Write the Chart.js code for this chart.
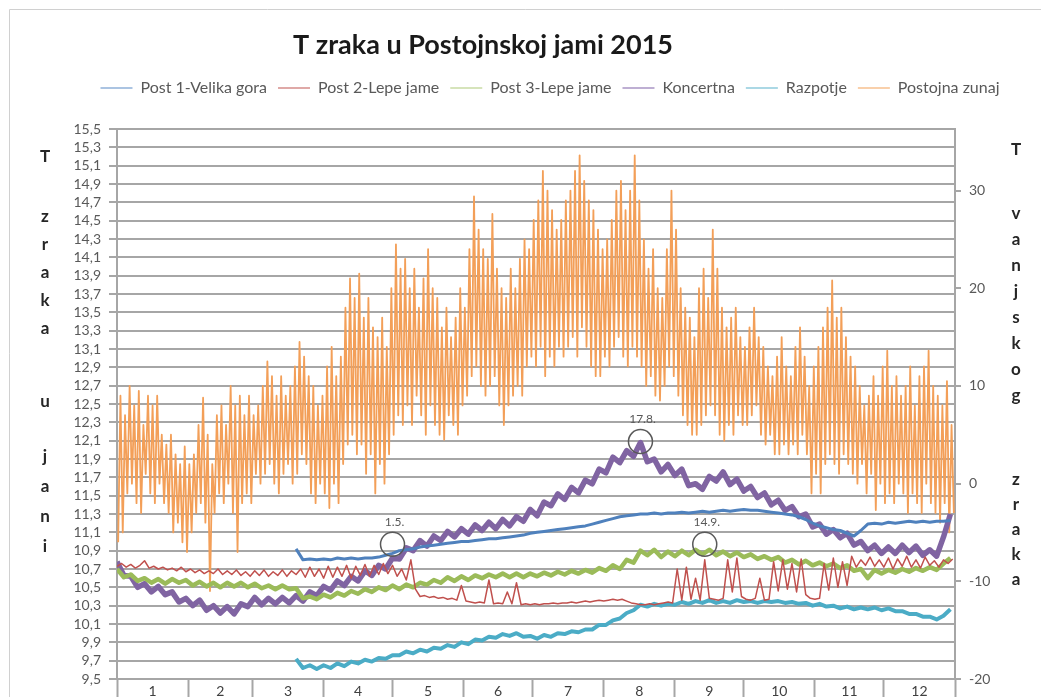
<!DOCTYPE html>
<html>
<head>
<meta charset="utf-8">
<title>T zraka u Postojnskoj jami 2015</title>
<script src="https://cdn.jsdelivr.net/npm/chart.js@4.4.1/dist/chart.umd.min.js"></script>
<style>
	html, body { margin: 0; padding: 0; background: #fff; overflow: hidden; }
	canvas { display: block; }
</style>
</head>
<body>
<canvas id="chart" width="1041" height="697"></canvas>
<script>
const chartTitle = `T zraka u Postojnskoj jami 2015`;
const seriesNames = [`Post 1-Velika gora`, `Post 2-Lepe jame`, `Post 3-Lepe jame`, `Koncertna`, `Razpotje`, `Postojna zunaj`];
const leftAxisTitle = [`T`, `zraka`, `u`, `jani`];
const rightAxisTitle = [`T`, `vanjskog`, `zraka`];

// x axis: day of year, month boundaries and labels
const monthLabels = [`1`, `2`, `3`, `4`, `5`, `6`, `7`, `8`, `9`, `10`, `11`, `12`];
const monthStarts = [0, 31, 59, 90, 120, 151, 181, 212, 243, 273, 304, 334, 365];
const rightTicks = [-20, -10, 0, 10, 20, 30];

// circled points
const markLabels = [`1.5.`, `17.8.`, `14.9.`];
const markDays = [120, 228, 256];
const markValues = [10.97, 12.09, 10.97];

// cave series, read every 3rd day (left axis)
const post1 = [
	null, null, null, null, null, null, null, null, null, null,
	null, null, null, null, null, null, null, null, null, null,
	null, null, null, null, null, null, 10.92, 10.80, 10.81, 10.80,
	10.81, 10.80, 10.82, 10.81, 10.82, 10.81, 10.82, 10.82, 10.83, 10.85,
	10.87, 10.90, 10.91, 10.92, 10.94, 10.95, 10.96, 10.97, 10.98, 10.99,
	11.00, 11.00, 11.01, 11.02, 11.03, 11.03, 11.04, 11.05, 11.06, 11.07,
	11.09, 11.10, 11.11, 11.12, 11.13, 11.14, 11.15, 11.16, 11.17, 11.19,
	11.21, 11.23, 11.25, 11.27, 11.28, 11.29, 11.30, 11.30, 11.31, 11.30,
	11.31, 11.31, 11.32, 11.31, 11.32, 11.33, 11.32, 11.33, 11.34, 11.33,
	11.34, 11.35, 11.34, 11.34, 11.33, 11.32, 11.31, 11.30, 11.29, 11.27,
	11.24, 11.20, 11.17, 11.15, 11.13, 11.12, 11.09, 11.06, 11.12, 11.19,
	11.20, 11.19, 11.21, 11.20, 11.21, 11.22, 11.21, 11.22, 11.21, 11.22,
	11.22, 11.23
];
const post3 = [
	10.70, 10.61, 10.64, 10.57, 10.60, 10.55, 10.59, 10.54, 10.59, 10.55,
	10.58, 10.52, 10.56, 10.51, 10.55, 10.50, 10.55, 10.51, 10.55, 10.50,
	10.54, 10.49, 10.52, 10.48, 10.52, 10.48, 10.49, 10.38, 10.40, 10.37,
	10.42, 10.39, 10.44, 10.41, 10.46, 10.43, 10.48, 10.45, 10.50, 10.47,
	10.52, 10.48, 10.53, 10.50, 10.55, 10.53, 10.58, 10.55, 10.61, 10.57,
	10.62, 10.58, 10.63, 10.60, 10.64, 10.61, 10.65, 10.61, 10.65, 10.61,
	10.65, 10.62, 10.66, 10.63, 10.67, 10.64, 10.68, 10.65, 10.69, 10.66,
	10.71, 10.68, 10.74, 10.70, 10.80, 10.77, 10.90, 10.85, 10.91, 10.83,
	10.89, 10.84, 10.90, 10.85, 10.91, 10.86, 10.91, 10.85, 10.89, 10.84,
	10.88, 10.83, 10.86, 10.81, 10.84, 10.80, 10.83, 10.77, 10.80, 10.75,
	10.79, 10.74, 10.77, 10.73, 10.76, 10.71, 10.74, 10.68, 10.70, 10.60,
	10.69, 10.65, 10.69, 10.66, 10.70, 10.67, 10.71, 10.68, 10.72, 10.69,
	10.76, 10.82
];
const koncertna = [
	10.78, 10.63, 10.62, 10.50, 10.54, 10.45, 10.51, 10.42, 10.45, 10.34,
	10.38, 10.30, 10.36, 10.25, 10.30, 10.22, 10.29, 10.21, 10.32, 10.29,
	10.39, 10.31, 10.38, 10.32, 10.39, 10.33, 10.41, 10.35, 10.45, 10.41,
	10.51, 10.47, 10.57, 10.52, 10.62, 10.57, 10.68, 10.63, 10.74, 10.70,
	10.82, 10.81, 10.93, 10.90, 11.01, 10.95, 11.06, 11.01, 11.11, 11.05,
	11.14, 11.08, 11.18, 11.12, 11.21, 11.14, 11.24, 11.17, 11.27, 11.22,
	11.35, 11.28, 11.43, 11.39, 11.52, 11.46, 11.59, 11.53, 11.67, 11.63,
	11.79, 11.75, 11.92, 11.86, 11.99, 11.93, 12.08, 11.87, 11.90, 11.76,
	11.84, 11.72, 11.79, 11.61, 11.63, 11.57, 11.71, 11.66, 11.76, 11.62,
	11.68, 11.55, 11.60, 11.48, 11.53, 11.40, 11.45, 11.34, 11.38, 11.27,
	11.30, 11.16, 11.19, 11.08, 11.13, 11.04, 11.09, 10.96, 11.00, 10.90,
	10.96, 10.87, 10.94, 10.87, 10.96, 10.88, 10.95, 10.85, 10.91, 10.84,
	11.05, 11.30
];
const razpotje = [
	null, null, null, null, null, null, null, null, null, null,
	null, null, null, null, null, null, null, null, null, null,
	null, null, null, null, null, null, 9.72, 9.62, 9.65, 9.61,
	9.65, 9.62, 9.67, 9.64, 9.69, 9.67, 9.71, 9.69, 9.73, 9.72,
	9.76, 9.76, 9.80, 9.78, 9.82, 9.80, 9.84, 9.83, 9.87, 9.85,
	9.90, 9.88, 9.93, 9.92, 9.96, 9.95, 9.99, 9.97, 10.00, 9.96,
	9.97, 9.94, 9.98, 9.96, 10.00, 9.99, 10.02, 10.01, 10.04, 10.04,
	10.09, 10.09, 10.14, 10.16, 10.22, 10.25, 10.31, 10.29, 10.32, 10.30,
	10.32, 10.31, 10.34, 10.32, 10.35, 10.33, 10.36, 10.33, 10.35, 10.33,
	10.36, 10.34, 10.35, 10.33, 10.35, 10.34, 10.35, 10.33, 10.34, 10.32,
	10.33, 10.30, 10.32, 10.29, 10.30, 10.27, 10.29, 10.26, 10.28, 10.26,
	10.28, 10.25, 10.27, 10.24, 10.24, 10.21, 10.21, 10.18, 10.18, 10.15,
	10.19, 10.26
];

// Post 2 read every 2nd day (it has the spikes)
const post2 = [
	10.73, 10.76, 10.72, 10.75, 10.71, 10.74, 10.79, 10.71, 10.73, 10.70,
	10.72, 10.69, 10.71, 10.68, 10.72, 10.67, 10.70, 10.66, 10.69, 10.65,
	10.68, 10.65, 10.70, 10.64, 10.68, 10.64, 10.69, 10.63, 10.67, 10.62,
	10.68, 10.63, 10.69, 10.62, 10.67, 10.63, 10.69, 10.62, 10.68, 10.64,
	10.70, 10.61, 10.72, 10.62, 10.70, 10.60, 10.73, 10.61, 10.72, 10.62,
	10.74, 10.60, 10.73, 10.63, 10.75, 10.62, 10.74, 10.64, 10.76, 10.65,
	10.74, 10.62, 10.70, 10.58, 10.80, 10.48, 10.40, 10.41, 10.39, 10.40,
	10.38, 10.39, 10.37, 10.38, 10.36, 10.52, 10.35, 10.34, 10.33, 10.34,
	10.33, 10.58, 10.32, 10.33, 10.32, 10.45, 10.32, 10.55, 10.31, 10.32,
	10.31, 10.32, 10.31, 10.32, 10.32, 10.33, 10.32, 10.33, 10.33, 10.34,
	10.33, 10.34, 10.35, 10.34, 10.35, 10.36, 10.35, 10.36, 10.37, 10.36,
	10.37, 10.35, 10.33, 10.32, 10.31, 10.31, 10.32, 10.31, 10.32, 10.33,
	10.34, 10.33, 10.70, 10.36, 10.72, 10.37, 10.60, 10.36, 10.80, 10.38,
	10.37, 10.36, 10.38, 10.80, 10.45, 10.82, 10.40, 10.37, 10.36, 10.38,
	10.60, 10.36, 10.37, 10.78, 10.46, 10.80, 10.48, 10.76, 10.45, 10.81,
	10.42, 10.38, 10.37, 10.38, 10.76, 10.47, 10.82, 10.50, 10.78, 10.52,
	10.84, 10.72, 10.80, 10.74, 10.83, 10.73, 10.80, 10.72, 10.82, 10.70,
	10.81, 10.73, 10.84, 10.72, 10.80, 10.71, 10.83, 10.74, 10.79, 10.72,
	10.80, 10.76, 10.81
];

// outside temperature, one reading per day, alternating day/night (right axis)
const zunaj = [
	-6, 9, -5, 7, -1, 10, 0,
	8, -2, 9.5, -3, 6, 1, 9,
	-1, 8, -2, 9, 0, 5, -2,
	4, -3, 5, -5, 3, -4, 2,
	-6, 3.8, -7, 2, -5, 3, -3,
	6, -2, 8.8, -4, 5, -11, 2,
	-3, 7, -1, 8, -2, 6, 0,
	10, -3, 8, -7, 9, -2, 7,
	-1, 9, -2, 7, 1, 8, 0,
	10, 1, 12.5, 2, 11, 0, 9,
	-1, 11, 1, 9, 2, 10, 0,
	12, 1, 14.5, 3, 13, 2, 11,
	-1, 10, -2, 8, 0, 9, -1,
	12, -2.5, 14, 0, 11, -2, 13,
	2, 18, 4, 21, 5, 19, 3,
	21.5, 4, 17, 1, 19, 3, 16,
	-1, 15, 2, 17, 0, 14, 3,
	20, 5, 24.5, 7, 22, 6, 23,
	8, 20, 6, 22, 9, 18, 7,
	21, 5, 24, 8, 20, 6, 19,
	5, 16, 4.5, 18, 7, 15, 6,
	17, 5, 20, 8, 18, 9, 24,
	11, 29.4, 12, 26, 10, 24, 9,
	23, 10, 27.6, 11, 22, 8, 20,
	6, 19, 8, 22, 9, 20, 10,
	23, 9, 25, 12, 24, 13, 27,
	12, 29, 14, 32, 11, 30, 13,
	28, 12, 26, 14, 27, 13, 29,
	14, 30, 15, 32, 13, 33.6, 16,
	31, 14, 29, 12, 28, 11, 26,
	11, 24, 13, 25, 12, 27, 14,
	30, 15, 31, 13, 28, 12, 30,
	14, 33.6, 13, 29, 12, 25, 10,
	22, 11, 24, 9, 20, 8.5, 19,
	10, 24, 12, 30, 11, 26, 9,
	20, 7, 18, 6, 17, 5, 15,
	5, 20, 6, 22, 7, 19, 8,
	26, 7, 22, 5, 18, 4.4, 16,
	6, 17, 5, 18, 7, 15, 6,
	14, 6, 16, 7, 18, 8, 15,
	5, 14, 4, 12, 5, 11, 3,
	13, 3, 15, 4, 12, 3, 11,
	4, 14, 3, 16, 5, 13, 3,
	10, -1, 12, 1, 14, -1, 16,
	2, 18, 3, 20.8, 2, 17, 1,
	18, 3, 15, 2, 13, 1, 12,
	0, 10, 2, 8, -1, 9, 1,
	11, -2.7, 9, 0, 12, -2, 13.6,
	-1, 10, -2, 11, 0, 9, -1,
	10, -3, 12, -1, 8, -2, 11,
	-3, 12, 0, 13.6, -2, 10, -3,
	9, -4, 8, -2, 10.5, -5, 6,
	-3
];

const colors = [`#4f81bd`, `#c0504d`, `#9bbb59`, `#8064a2`, `#4bacc6`, `#f39f58`];
const legendColors = [`#8fb0d8`, `#d58c8a`, `#c9dba5`, `#a994c4`, `#8fcbdc`, `#f7c08f`];
const gridGray = `#a6a6a6`;
const textGray = `#595959`;

const monthMids = monthLabels.map((_, i) => (monthStarts[i] + monthStarts[i + 1]) / 2);
const points = (values, step, offset) => values.map((v, i) => ({x: i * step + offset, y: v}));

const lineSet = (i, values, step, offset, width, axis) => ({
	label: seriesNames[i],
	data: points(values, step, offset),
	borderColor: colors[i],
	backgroundColor: colors[i],
	borderWidth: width,
	borderJoinStyle: `round`,
	pointRadius: 0,
	tension: 0,
	yAxisID: axis
});

// extra text: title, stacked axis titles, circled dates
const decorations = {
	id: `decorations`,
	beforeDraw(chart) {
		const {ctx} = chart;
		ctx.save();
		ctx.fillStyle = `#fff`;
		ctx.fillRect(0, 0, chart.width, chart.height);
		ctx.strokeStyle = `#d0d0d0`;
		ctx.lineWidth = 1;
		ctx.beginPath();
		ctx.moveTo(9.5, chart.height);
		ctx.lineTo(9.5, 9.5);
		ctx.lineTo(chart.width, 9.5);
		ctx.stroke();
		ctx.restore();
	},
	afterDatasetsDraw(chart) {
		const {ctx} = chart;
		const x = chart.scales.x;
		const y = chart.scales.y;
		ctx.save();
		ctx.strokeStyle = textGray;
		ctx.fillStyle = textGray;
		ctx.lineWidth = 1.5;
		ctx.font = `12px Lato`;
		ctx.textAlign = `center`;
		ctx.textBaseline = `middle`;
		markDays.forEach((day, i) => {
			const px = x.getPixelForValue(day);
			const py = y.getPixelForValue(markValues[i]);
			ctx.beginPath();
			ctx.arc(px, py, 12, 0, Math.PI * 2);
			ctx.stroke();
			ctx.fillText(markLabels[i], px + 2, py - 22);
		});
		ctx.restore();
	},
	afterDraw(chart) {
		const {ctx} = chart;
		ctx.save();
		ctx.textAlign = `center`;
		ctx.textBaseline = `middle`;
		ctx.fillStyle = `#1a1a1a`;
		ctx.font = `bold 27px Lato`;
		ctx.fillText(chartTitle, 483, 45);

		ctx.fillStyle = `#262626`;
		ctx.font = `bold 17px Lato`;
		const stack = (word, cx, top, step) => {
			[...word].forEach((ch, k) => ctx.fillText(ch, cx, top + k * step));
		};
		const leftTop = [157, 217, 402, 457];
		const leftStep = [0, 28, 0, 30];
		leftAxisTitle.forEach((w, i) => stack(w, 45, leftTop[i], leftStep[i]));
		const rightTop = [150, 214, 480];
		const rightStep = [0, 26, 25];
		rightAxisTitle.forEach((w, i) => stack(w, 1016, rightTop[i], rightStep[i]));
		ctx.restore();
	}
};

new Chart(document.getElementById(`chart`), {
	type: `line`,
	data: {
		datasets: [
			lineSet(0, post1, 3, 0, 3, `y`),
			lineSet(1, post2, 2, 0, 1.5, `y`),
			lineSet(2, post3, 3, 0, 4.5, `y`),
			lineSet(3, koncertna, 3, 0, 5.5, `y`),
			lineSet(4, razpotje, 3, 0, 4, `y`),
			lineSet(5, zunaj, 1, 0.5, 1.8, `y2`)
		]
	},
	options: {
		responsive: false,
		animation: false,
		devicePixelRatio: 1,
		layout: {padding: {left: 59, right: 0, top: 69, bottom: 0}},
		plugins: {
			title: {display: false},
			tooltip: {enabled: false},
			legend: {
				position: `top`,
				labels: {
					font: {family: `Lato`, size: 16},
					color: textGray,
					usePointStyle: true,
					pointStyleWidth: 32,
					padding: 11,
					generateLabels: chart => Chart.defaults.plugins.legend.labels.generateLabels(chart)
						.map((item, i) => ({...item, pointStyle: `line`, lineWidth: 1.5, strokeStyle: legendColors[i]}))
				}
			}
		},
		scales: {
			x: {
				type: `linear`,
				position: `bottom`,
				min: 0,
				max: 365,
				afterBuildTicks: scale => {
					scale.ticks = [...monthStarts, ...monthMids].sort((a, b) => a - b).map(v => ({value: v}));
				},
				afterFit: scale => { scale.height = 18; },
				grid: {
					drawOnChartArea: false,
					tickLength: 20,
					tickWidth: 2,
					tickColor: c => (c.tick && monthStarts.includes(c.tick.value)) ? gridGray : `rgba(0,0,0,0)`
				},
				border: {color: gridGray, width: 2},
				ticks: {
					autoSkip: false,
					maxRotation: 0,
					padding: -16,
					font: {family: `Lato`, size: 14},
					color: `#404040`,
					callback: v => {
						const k = monthMids.indexOf(v);
						return k >= 0 ? monthLabels[k] : ``;
					}
				}
			},
			gap: {
				type: `linear`,
				position: `top`,
				display: true,
				grid: {display: false},
				border: {display: false},
				ticks: {display: false},
				afterFit: scale => { scale.height = 23; }
			},
			y: {
				position: `left`,
				min: 9.5,
				max: 15.5,
				afterFit: scale => { scale.width = 58; },
				grid: {color: gridGray, lineWidth: 2, tickLength: 8, tickColor: gridGray},
				border: {color: gridGray, width: 2},
				ticks: {
					stepSize: 0.2,
					autoSkip: false,
					padding: 8,
					font: {family: `Lato`, size: 14},
					color: textGray,
					callback: v => v.toFixed(1).replace(`.`, `,`)
				}
			},
			y2: {
				position: `right`,
				min: -20,
				max: 36.3,
				afterBuildTicks: scale => {
					scale.ticks = rightTicks.map(v => ({value: v}));
				},
				afterFit: scale => { scale.width = 86; },
				grid: {drawOnChartArea: false, tickLength: 6, tickColor: gridGray, lineWidth: 2},
				border: {color: gridGray, width: 2},
				ticks: {
					autoSkip: false,
					padding: 8,
					font: {family: `Lato`, size: 14},
					color: textGray
				}
			}
		}
	},
	plugins: [decorations]
});
</script>
</body>
</html>
